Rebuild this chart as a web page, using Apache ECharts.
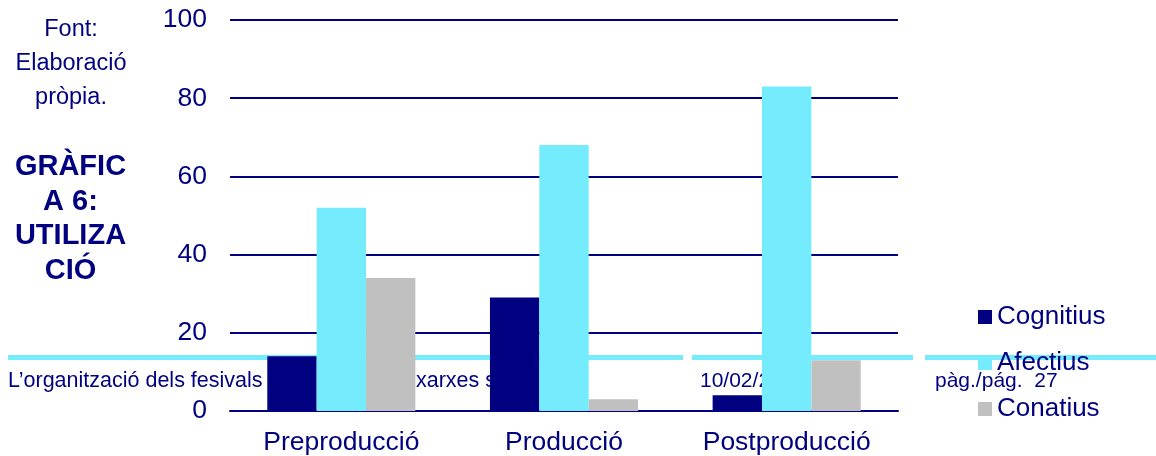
<!DOCTYPE html>
<html>
<head>
<meta charset="utf-8">
<script src="https://cdn.jsdelivr.net/npm/echarts@6/dist/echarts.min.js"></script>
<style>
html,body{margin:0;padding:0;background:#fff;}
#chart{width:1156px;height:456px;}
</style>
</head>
<body>
<div id="chart"></div>
<script>
const categories = ['Preproducció', 'Producció', 'Postproducció'];
const seriesNames = ['Cognitius', 'Afectius', 'Conatius'];
const cognitius = [14, 29, 4];
const afectius = [52, 68, 83];
const conatius = [34, 3, 13];
const sourceLines = ['Font:', 'Elaboració', 'pròpia.'];
const titleLines = ['GRÀFIC', 'A 6:', 'UTILIZA', 'CIÓ'];
const footerLeft = 'L’organització dels fesivals';
const footerMid = 'xarxes socials';
const footerDate = '10/02/2';
const footerPage = 'pàg./pág.  27';

const NAVY = '#000080';
const CYAN = '#74ECFE';
const GRAY = '#C0C0C0';
const FONT = '"Liberation Sans", Arial, Helvetica, sans-serif';

const chart = echarts.init(document.getElementById('chart'));

const graphics = [];
// footer line segments (behind bars)
[[8, 683], [692, 913], [925, 1156]].forEach(function (s) {
  graphics.push({type: 'rect', z: 0, silent: true,
    shape: {x: s[0], y: 355, width: s[1] - s[0], height: 5},
    style: {fill: CYAN}});
});
function txt(t, x, y, size, weight, align) {
  graphics.push({type: 'text', z: 0, silent: true,
    style: {text: t, x: x, y: y, fill: NAVY,
      font: weight + ' ' + size + 'px ' + FONT,
      textAlign: align, align: align,
      textVerticalAlign: 'middle', verticalAlign: 'middle'}});
}
txt(footerLeft, 8, 381, 21.5, 'normal', 'left');
txt(footerMid, 416, 381, 21.5, 'normal', 'left');
txt(footerDate, 700, 381, 21, 'normal', 'left');
txt(footerPage, 935, 381, 21, 'normal', 'left');
sourceLines.forEach(function (t, i) { txt(t, 71, 30 + i * 34, 23.5, 'normal', 'center'); });
titleLines.forEach(function (t, i) { txt(t, 70.5, 167 + i * 34.7, 29, 'bold', 'center'); });

chart.setOption({
  animation: false,
  backgroundColor: '#ffffff',
  textStyle: {fontFamily: FONT},
  grid: {left: 230, right: 258, top: 20, bottom: 44, containLabel: false},
  legend: {
    orient: 'vertical', left: 973, top: 299,
    icon: 'rect', itemWidth: 14, itemHeight: 14, itemGap: 20,
    data: seriesNames,
    textStyle: {fontSize: 26, color: NAVY, fontFamily: FONT, lineHeight: 26}
  },
  xAxis: {
    type: 'category', data: categories,
    axisLine: {show: true, lineStyle: {color: NAVY, width: 2}},
    axisTick: {show: false},
    axisLabel: {fontSize: 26.5, color: NAVY, margin: 18, fontFamily: FONT}
  },
  yAxis: {
    type: 'value', min: 0, max: 100, interval: 20,
    axisLine: {show: false}, axisTick: {show: false},
    axisLabel: {fontSize: 26.5, color: NAVY, margin: 23, fontFamily: FONT},
    splitLine: {show: true, lineStyle: {color: NAVY, width: 2}}
  },
  graphic: graphics,
  series: [
    {name: seriesNames[0], type: 'bar', data: cognitius, barGap: '0%', barCategoryGap: '33.5%', itemStyle: {color: NAVY}, z: 2},
    {name: seriesNames[1], type: 'bar', data: afectius, barGap: '0%', barCategoryGap: '33.5%', itemStyle: {color: CYAN}, z: 2},
    {name: seriesNames[2], type: 'bar', data: conatius, barGap: '0%', barCategoryGap: '33.5%', itemStyle: {color: GRAY}, z: 2}
  ]
});
</script>
</body>
</html>
